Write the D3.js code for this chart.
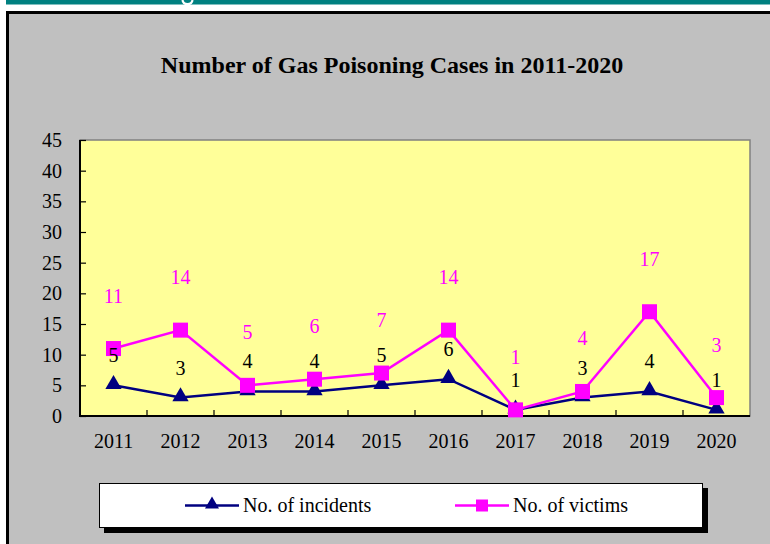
<!DOCTYPE html>
<html>
<head>
<meta charset="utf-8">
<script src="https://cdn.jsdelivr.net/npm/d3@7"></script>
<style>
  html, body { margin: 0; padding: 0; background: #fff; overflow: hidden; }
  text { font-family: "Liberation Serif", "Times New Roman", serif; }
</style>
</head>
<body>
<div id="vizcontainer"></div>
<script>
const years = ['2011', '2012', '2013', '2014', '2015', '2016', '2017', '2018', '2019', '2020'],
  incidents = [5, 3, 4, 4, 5, 6, 1, 3, 4, 1],
  victims = [11, 14, 5, 6, 7, 14, 1, 4, 17, 3],
  yTicks = [0, 5, 10, 15, 20, 25, 30, 35, 40, 45],
  title = 'Number of Gas Poisoning Cases in 2011-2020';

const
  width = 770,
  height = 544,
  plot = { left: 80, right: 750, top: 140, bottom: 416 },
  navy = '#000080',
  magenta = '#ff00ff',
  serif = '"Liberation Serif", "Times New Roman", serif';

const svg = d3.select('#vizcontainer')
  .append('svg')
  .attr('width', width)
  .attr('height', height);

// page header strip (teal band, with the descender of a cut-off heading letter)
svg.append('rect').attr('x', 6).attr('y', 0).attr('width', width - 6).attr('height', 4.5).attr('fill', '#008080');
svg.append('path').attr('d', 'M182.5,0 Q183,4 187.5,4 Q192,4 192.5,0')
  .attr('fill', 'none').attr('stroke', '#fff').attr('stroke-width', 2.2);

// chart frame
svg.append('rect').attr('x', 7.5).attr('y', 12.5).attr('width', width + 20).attr('height', height + 20)
  .attr('fill', '#c0c0c0').attr('stroke', '#000').attr('stroke-width', 3);

svg.append('text')
  .attr('x', 392).attr('y', 73)
  .attr('text-anchor', 'middle')
  .style('font-family', serif).style('font-weight', 'bold').style('font-size', '24px')
  .text(title);

const x = d3.scaleBand()
  .domain(years)
  .range([plot.left, plot.right]);

const y = d3.scaleLinear()
  .domain([0, 45])
  .range([plot.bottom, plot.top]);

// plot area
svg.append('rect')
  .attr('x', plot.left).attr('y', plot.top)
  .attr('width', plot.right - plot.left).attr('height', plot.bottom - plot.top)
  .attr('fill', '#ffff99').attr('stroke', '#808080').attr('stroke-width', 1.5);

const yAxis = svg.append('g')
  .attr('transform', `translate(${plot.left},0)`)
  .call(d3.axisLeft(y).tickValues(yTicks).tickSizeInner(-6).tickSizeOuter(0).tickPadding(18));
yAxis.selectAll('text').style('font-size', '20px').attr('fill', '#000')
  .style('font-family', serif);

const xAxis = svg.append('g')
  .attr('transform', `translate(0,${plot.bottom})`)
  .call(d3.axisBottom(x).tickSize(0).tickPadding(18));
xAxis.selectAll('text').style('font-size', '20px').attr('fill', '#000')
  .style('font-family', serif);

// category boundary ticks
svg.append('g').selectAll('line')
  .data(years.slice(1))
  .join('line')
  .attr('x1', d => x(d)).attr('x2', d => x(d))
  .attr('y1', plot.bottom).attr('y2', plot.bottom - 6)
  .attr('stroke', '#000').attr('stroke-width', 1.2);

svg.selectAll('.domain').remove();
svg.append('line').attr('x1', plot.left).attr('x2', plot.left).attr('y1', plot.top).attr('y2', plot.bottom + 1)
  .attr('stroke', '#000').attr('stroke-width', 2);
svg.append('line').attr('x1', plot.left - 1).attr('x2', plot.right).attr('y1', plot.bottom).attr('y2', plot.bottom)
  .attr('stroke', '#000').attr('stroke-width', 2);
svg.selectAll('.tick line').attr('stroke', '#000').attr('stroke-width', 1.2);

const cx = d => x(d) + x.bandwidth() / 2;
const line = d3.line().x(d => cx(d[0])).y(d => y(d[1]));

const tri = d3.symbol().type(d3.symbolTriangle).size(115);

// incidents series
svg.append('path')
  .datum(d3.zip(years, incidents))
  .attr('d', line).attr('fill', 'none').attr('stroke', navy).attr('stroke-width', 2.5);

// victims series
svg.append('path')
  .datum(d3.zip(years, victims))
  .attr('d', line).attr('fill', 'none').attr('stroke', magenta).attr('stroke-width', 2.5);

svg.append('g').selectAll('path')
  .data(d3.zip(years, incidents))
  .join('path')
  .attr('d', tri)
  .attr('transform', d => `translate(${cx(d[0])},${y(d[1]) - 1})`)
  .attr('fill', navy);

svg.append('g').selectAll('rect')
  .data(d3.zip(years, victims))
  .join('rect')
  .attr('x', d => cx(d[0]) - 7.5).attr('y', d => y(d[1]) - 7.5)
  .attr('width', 15).attr('height', 15)
  .attr('fill', magenta);

// data labels
svg.append('g').selectAll('text')
  .data(d3.zip(years, incidents))
  .join('text')
  .attr('x', d => cx(d[0])).attr('y', d => y(d[1]) - 23)
  .attr('text-anchor', 'middle')
  .style('font-family', serif).style('font-size', '20px').attr('fill', '#000')
  .text(d => d[1]);

svg.append('g').selectAll('text')
  .data(d3.zip(years, victims))
  .join('text')
  .attr('x', d => cx(d[0])).attr('y', d => y(d[1]) - 46)
  .attr('text-anchor', 'middle')
  .style('font-family', serif).style('font-size', '20px').attr('fill', magenta)
  .text(d => d[1]);

// legend
const legend = svg.append('g');
legend.append('rect').attr('x', 104).attr('y', 488).attr('width', 604).attr('height', 45).attr('fill', '#000');
legend.append('rect').attr('x', 99.5).attr('y', 483.5).attr('width', 603).attr('height', 44)
  .attr('fill', '#fff').attr('stroke', '#000').attr('stroke-width', 1);

const items = [
  { name: 'No. of incidents', color: navy, shape: 'tri', x: 185 },
  { name: 'No. of victims', color: magenta, shape: 'sq', x: 455 }
];
items.forEach(it => {
  const g = legend.append('g').attr('transform', `translate(${it.x},505.5)`);
  g.append('line').attr('x1', 0).attr('x2', 54).attr('stroke', it.color).attr('stroke-width', 2.5);
  if (it.shape === 'tri') {
    g.append('path').attr('d', d3.symbol().type(d3.symbolTriangle).size(85)).attr('transform', 'translate(27,-1)').attr('fill', it.color);
  } else {
    g.append('rect').attr('x', 21).attr('y', -6).attr('width', 12).attr('height', 12).attr('fill', it.color);
  }
  g.append('text').attr('x', 58).attr('y', 6).style('font-family', serif).style('font-size', '20px').attr('fill', '#000').text(it.name);
});
</script>
</body>
</html>
